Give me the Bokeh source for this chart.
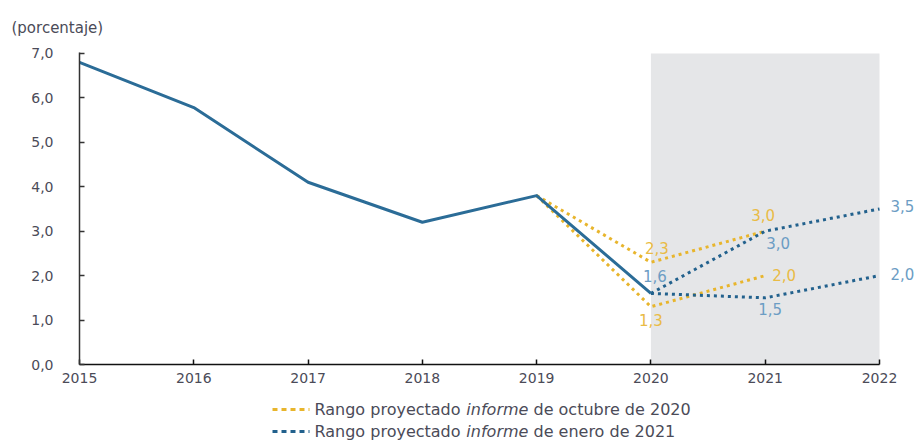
from bokeh.plotting import figure
from bokeh.layouts import column
from bokeh.models import Range1d, BoxAnnotation, FixedTicker
from bokeh.core.properties import value
from bokeh.embed import file_html
from bokeh.resources import INLINE

# ---------------- data ----------------
years = [2015, 2016, 2017, 2018, 2019, 2020]
rate = [6.8, 5.78, 4.1, 3.2, 3.8, 1.6]

oct_years = [2019, 2020, 2021]
oct_upper = [3.8, 2.3, 3.0]
oct_lower = [3.8, 1.3, 2.0]

jan_years = [2020, 2021, 2022]
jan_upper = [1.6, 3.0, 3.5]
jan_lower = [1.6, 1.5, 2.0]

x_ticks = [2015, 2016, 2017, 2018, 2019, 2020, 2021, 2022]
y_ticks = [0, 1, 2, 3, 4, 5, 6, 7]
y_tick_labels = ["0,0", "1,0", "2,0", "3,0", "4,0", "5,0", "6,0", "7,0"]

unit_label = "(porcentaje)"
legend_oct = ["Rango proyectado", "informe", "de octubre de 2020"]
legend_jan = ["Rango proyectado", "informe", "de enero de 2021"]

# point labels
oct_labels_x = [2020, 2020, 2021, 2021]
oct_labels_y = [2.3, 1.3, 3.0, 2.0]
oct_labels_t = ["2,3", "1,3", "3,0", "2,0"]
jan_labels_x = [2020, 2021, 2021, 2022, 2022]
jan_labels_y = [1.6, 3.0, 1.5, 3.5, 2.0]
jan_labels_t = ["1,6", "3,0", "1,5", "3,5", "2,0"]

# ---------------- style ----------------
FONT = "DejaVu Sans"
C_MAIN = "#2b6c97"
C_OCT = "#e8b52c"
C_JAN = "#22618d"
C_OCT_LBL = "#e9bb45"
C_JAN_LBL = "#6c9dc4"
C_TXT = "#4b4b58"
GREY = "#e5e6e8"

W = 920
LEFT = 79

# ---------------- main ----------------
x_end = 2015 + (W - LEFT) / (800 / 7)
p = figure(width=W, height=395, x_range=Range1d(2015, x_end), y_range=Range1d(0, 7.02),
           toolbar_location=None, output_backend="svg",
           min_border_left=LEFT, min_border_right=0, min_border_top=50, min_border_bottom=31)
p.outline_line_color = None
p.grid.visible = False

p.title.text = unit_label
p.title.align = "left"
p.title.offset = -(LEFT - 11)
p.title.text_font = FONT
p.title.text_font_size = "15px"
p.title.text_font_style = "normal"
p.title.text_color = C_TXT
p.title.standoff = 32

p.add_layout(BoxAnnotation(left=2020, right=2022, bottom=0, top=7.0, fill_color=GREY,
                           fill_alpha=1, line_alpha=0, level="underlay"))

dot = dict(line_width=3, line_dash="3 4", line_cap="butt")
p.line(oct_years, oct_upper, line_color=C_OCT, **dot)
p.line(oct_years, oct_lower, line_color=C_OCT, **dot)
p.line(jan_years, jan_upper, line_color=C_JAN, **dot)
p.line(jan_years, jan_lower, line_color=C_JAN, **dot)
p.line(years, rate, line_color=C_MAIN, line_width=3, line_join="round")

lbl = dict(text_font=value(FONT), text_font_size="15px", text_baseline="middle")
oct_dx = [6, 0, -2, 7]
oct_dy = [-14, 13, -16, -1]
oct_al = ["center", "center", "center", "left"]
for x, y, t, dx, dy, al in zip(oct_labels_x, oct_labels_y, oct_labels_t, oct_dx, oct_dy, oct_al):
    p.text(x=[x], y=[y], text=[t], x_offset=dx, y_offset=dy, text_align=al,
           text_color=C_OCT_LBL, **lbl)
jan_dx = [4, 13, 5, 11, 11]
jan_dy = [-17, 12, 11, -3, -2]
jan_al = ["center", "center", "center", "left", "left"]
for x, y, t, dx, dy, al in zip(jan_labels_x, jan_labels_y, jan_labels_t, jan_dx, jan_dy, jan_al):
    p.text(x=[x], y=[y], text=[t], x_offset=dx, y_offset=dy, text_align=al,
           text_color=C_JAN_LBL, **lbl)

# axes
p.xaxis.ticker = FixedTicker(ticks=x_ticks)
p.xaxis.bounds = (2015, 2022)
p.xaxis.axis_line_color = "#111111"
p.xaxis.axis_line_width = 1.5
p.xaxis.major_tick_in = 5
p.xaxis.major_tick_out = 0
p.xaxis.major_tick_line_color = "#111111"
p.xaxis.major_tick_line_width = 1.5
p.xaxis.minor_tick_line_color = None
p.xaxis.major_label_standoff = 8
p.xaxis.major_label_text_font = FONT
p.xaxis.major_label_text_font_size = "14px"
p.xaxis.major_label_text_color = C_TXT

p.yaxis.ticker = FixedTicker(ticks=y_ticks)
p.yaxis.major_label_overrides = {float(t): l for t, l in zip(y_ticks, y_tick_labels)}
p.yaxis.axis_line_color = "#333333"
p.yaxis.axis_line_width = 1.5
p.yaxis.major_tick_in = 5
p.yaxis.major_tick_out = 0
p.yaxis.major_tick_line_color = "#333333"
p.yaxis.major_tick_line_width = 1.5
p.yaxis.minor_tick_line_color = None
p.yaxis.major_label_standoff = 26
p.yaxis.major_label_text_font = FONT
p.yaxis.major_label_text_font_size = "14px"
p.yaxis.major_label_text_color = C_TXT

# ---------------- legend ----------------
CW = {" ": .318, "R": .695, "a": .613, "n": .634, "g": .635, "o": .612, "p": .635,
      "r": .411, "y": .592, "e": .615, "c": .550, "t": .392, "d": .635, "i": .278,
      "f": .352, "m": .974, "u": .634, "b": .635, "0": .636, "1": .636, "2": .636, "l": .278}
FS = 16


def tw(s):
    return sum(CW.get(c, .6) for c in s) * FS


# frame of this figure is aligned with the main frame (starts at x=LEFT), so
# its x range is set so data x == page pixel x
leg = figure(width=W, height=46, x_range=Range1d(LEFT, W), y_range=Range1d(46, 0),
             x_axis_type=None, y_axis_type=None, toolbar_location=None,
             output_backend="svg", min_border_left=LEFT, min_border_right=0,
             min_border_top=0, min_border_bottom=0)
leg.outline_line_color = None
leg.grid.visible = False

x0 = 272
for row_y, pieces, col in [(14, legend_oct, C_OCT), (36, legend_jan, C_JAN)]:
    leg.line([x0, x0 + 37], [row_y, row_y], line_color=col, line_width=3, line_dash="5 4")
    x = x0 + 42
    for k, s in enumerate(pieces):
        leg.text(x=[x], y=[row_y], text=[s], text_font=value(FONT), text_font_size=f"{FS}px",
                 text_font_style="italic" if k == 1 else "normal",
                 text_color=C_TXT, text_baseline="middle", text_align="left")
        x += tw(s) + tw(" ")

layout = column(p, leg, spacing=0)
open("out.html", "w").write(file_html(layout, INLINE))
